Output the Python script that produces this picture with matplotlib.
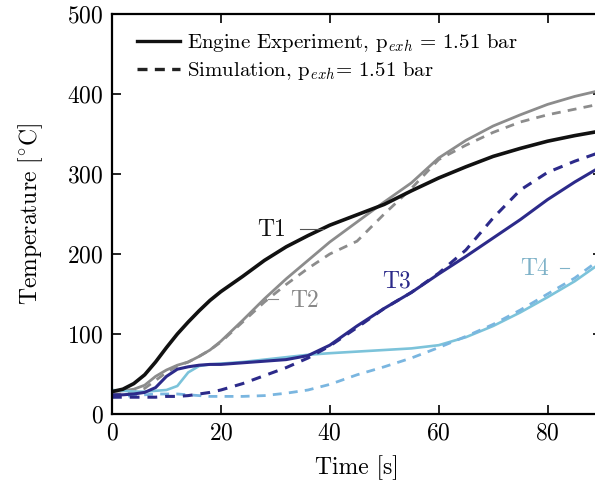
import numpy as np
import matplotlib
matplotlib.use('Agg')
import matplotlib.pyplot as plt

# --- data ---
time = [0, 2, 4, 6, 8, 10, 12, 14, 16, 18, 20, 24, 28, 32, 36, 40, 45, 50, 55, 60, 65, 70, 75, 80, 85, 90]

t1_exp = [28, 31, 38, 49, 65, 83, 100, 115, 129, 142, 153, 172, 192, 209, 223, 236, 249, 262, 279, 295, 309, 322, 332, 341, 348, 354]
t2_exp = [28, 29, 31, 36, 47, 55, 61, 65, 72, 80, 91, 117, 144, 169, 192, 215, 240, 265, 289, 320, 342, 360, 374, 387, 397, 405]
t2_sim = [24, 25, 27, 32, 42, 52, 60, 65, 72, 80, 90, 115, 140, 162, 182, 200, 216, 250, 282, 318, 336, 352, 365, 374, 381, 388]
t3_exp = [24, 24, 25, 27, 33, 47, 56, 59, 61, 62, 62, 64, 66, 68, 73, 86, 110, 132, 152, 175, 197, 220, 243, 268, 290, 310]
t3_sim = [21, 21, 21, 21, 21, 22, 22, 23, 25, 27, 30, 38, 48, 58, 70, 85, 108, 132, 152, 176, 205, 245, 280, 302, 316, 328]
t4_exp = [30, 29, 28, 28, 29, 30, 35, 52, 60, 62, 63, 65, 68, 71, 74, 76, 78, 80, 82, 86, 96, 110, 127, 146, 166, 190]
t4_sim = [21, 22, 23, 24, 25, 25, 25, 24, 23, 22, 22, 22, 23, 26, 30, 37, 49, 59, 70, 83, 97, 112, 130, 150, 170, 195]

legend_labels = [r'Engine Experiment, $\mathrm{p}_{exh}\,=\,$1.51 bar',
                 r'Simulation, $\mathrm{p}_{exh}$= 1.51 bar']

# --- style ---
plt.rcParams.update({
    'font.family': 'serif',
    'font.serif': ['cmr10', 'DejaVu Serif'],
    'mathtext.fontset': 'cm',
    'axes.formatter.use_mathtext': True,
    'font.size': 17,
})

c_t1 = '#111111'
c_t2 = '#8c8c8c'
c_t3 = '#2c2a8a'
c_t4 = '#7cc3da'
c_t4s = '#7ab6e0'
dash = (3.2, 2.6)

fig = plt.figure(figsize=(5.95, 4.87), dpi=100)
ax = fig.add_axes([112/595, 73/487, 490/595, 400/487])

ax.plot(time, t2_exp, color=c_t2, lw=2.0)
ax.plot(time, t2_sim, color=c_t2, lw=2.0, ls='--', dashes=dash)
ax.plot(time, t4_exp, color=c_t4, lw=1.9)
ax.plot(time, t4_sim, color=c_t4s, lw=2.0, ls='--', dashes=dash)
ax.plot(time, t3_exp, color=c_t3, lw=2.2)
ax.plot(time, t3_sim, color=c_t3, lw=2.2, ls='--', dashes=dash)
ax.plot(time, t1_exp, color=c_t1, lw=2.6)

# curve labels with short leader lines
ax.text(29.4, 230, 'T1', color='#111111', ha='center', va='center')
ax.plot([34.5, 38.7], [231, 231], color='#555555', lw=0.8)
ax.text(35.4, 141, 'T2', color='#888888', ha='center', va='center')
ax.plot([28.6, 30.5], [144, 144], color='#888888', lw=0.8)
ax.text(52.3, 166, 'T3', color=c_t3, ha='center', va='center')
ax.text(77.6, 181, 'T4', color='#7fb2c8', ha='center', va='center')
ax.plot([82.2, 84.0], [182, 182], color='#7fb2c8', lw=0.8)

# legend
h1, = ax.plot([], [], color='#111111', lw=2.4)
h2, = ax.plot([], [], color='#222222', lw=2.4, ls='--', dashes=(3.0, 2.2))
ax.legend([h1, h2], legend_labels, loc='upper left', bbox_to_anchor=(0.051, 0.955),
          frameon=False, fontsize=15, borderpad=0, borderaxespad=0,
          handlelength=2.05, handletextpad=0.35, labelspacing=0.3)

ax.set_xlim(0, 90)
ax.set_ylim(0, 500)
ax.set_xticks([0, 20, 40, 60, 80])
ax.set_yticks([0, 100, 200, 300, 400, 500])
ax.tick_params(direction='in', length=6.5, width=1.2, top=True, right=True, pad=6)
for s in ax.spines.values():
    s.set_linewidth(1.6)

ax.set_xlabel('Time [s]', labelpad=8)
ax.set_ylabel(r'Temperature [$^{\circ}$C]', labelpad=16)

fig.savefig('out.png', dpi=100)
